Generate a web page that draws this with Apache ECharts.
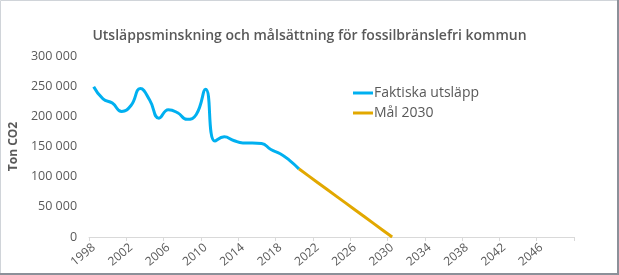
<!DOCTYPE html>
<html>
<head>
<meta charset="utf-8">
<script src="https://cdn.jsdelivr.net/npm/echarts@6/dist/echarts.min.js"></script>
<style>
html,body{margin:0;padding:0;background:#fff;}
#c{width:619px;height:275px;}
</style>
</head>
<body>
<div id="c"></div>
<script>
const years = [];
for (let y = 1998; y <= 2049; y++) years.push(String(y));

const actualYears = ['1998','1999','2000','2001','2002','2003','2004','2005','2006','2007','2008','2009','2010','2011','2012','2013','2014','2015','2016','2017','2018','2019','2020'];
const actualValues = [249000,229000,222000,208000,218000,246000,227000,197000,211000,206000,195000,203000,245000,159000,166000,160000,156000,156000,155000,145000,138000,127000,113000];

const targetYears = ['2020','2021','2022','2023','2024','2025','2026','2027','2028','2029','2030'];
const targetValues = [113000,101700,90400,79100,67800,56500,45200,33900,22600,11300,0];

const yTicks = [0,50000,100000,150000,200000,250000,300000];

function toSeries(cats, vals) {
  const m = {};
  cats.forEach((c, i) => m[c] = vals[i]);
  return years.map(y => (y in m ? m[y] : null));
}

const chart = echarts.init(document.getElementById('c'), null, {renderer: 'canvas'});
const txt = '#595959';
chart.setOption({
  backgroundColor: '#fff',
  animation: false,
  title: {
    text: 'Utsläppsminskning och målsättning för fossilbränslefri kommun',
    left: 'center',
    top: 24,
    textStyle: {fontFamily: 'Open Sans', fontSize: 14, fontWeight: 600, color: txt}
  },
  legend: {
    orient: 'vertical',
    left: 348,
    top: 81,
    itemGap: 6,
    itemWidth: 20,
    itemHeight: 3,
    icon: 'rect',
    textStyle: {fontFamily: 'Open Sans', fontSize: 14, color: txt, padding: [0,0,0,-4]},
    data: ['Faktiska utsläpp', 'Mål 2030']
  },
  grid: {left: 86, right: 45, top: 56, bottom: 38, containLabel: false},
  xAxis: {
    type: 'category',
    data: years,
    boundaryGap: true,
    axisLine: {lineStyle: {color: '#d9d9d9', width: 1}},
    axisTick: {show: true, interval: 3, length: 4, lineStyle: {color: '#d9d9d9'}},
    axisLabel: {interval: 3, rotate: 40, color: txt, fontFamily: 'Open Sans', fontSize: 12, margin: 9},
    splitLine: {show: false}
  },
  yAxis: {
    type: 'value',
    min: yTicks[0],
    max: yTicks[yTicks.length - 1],
    interval: 50000,
    name: 'Ton CO2',
    nameLocation: 'middle',
    nameGap: 56,
    nameRotate: 90,
    nameTextStyle: {fontFamily: 'Open Sans', fontSize: 12, fontWeight: 'bold', color: txt},
    axisLine: {show: false},
    axisTick: {show: false},
    splitLine: {show: false},
    axisLabel: {
      color: txt, fontFamily: 'Open Sans', fontSize: 12.5, margin: 12,
      formatter: v => v === 0 ? '0' : String(v).replace(/\B(?=(\d{3})+(?!\d))/g, ' ')
    }
  },
  series: [
    {
      name: 'Faktiska utsläpp',
      type: 'line',
      data: toSeries(actualYears, actualValues),
      smooth: 0.5,
      showSymbol: false,
      symbol: 'none',
      lineStyle: {color: '#00B0F0', width: 3},
      itemStyle: {color: '#00B0F0'},
      z: 3
    },
    {
      name: 'Mål 2030',
      type: 'line',
      data: toSeries(targetYears, targetValues),
      smooth: false,
      showSymbol: false,
      symbol: 'none',
      lineStyle: {color: '#E2A800', width: 3},
      itemStyle: {color: '#E2A800'},
      z: 2
    }
  ],
  graphic: [
    {type: 'rect', shape: {x: 0.5, y: 0.5, width: 617, height: 273}, style: {fill: 'none', stroke: '#d0d4d9', lineWidth: 1}, silent: true},
    {type: 'line', shape: {x1: 618, y1: 0, x2: 618, y2: 275}, style: {stroke: '#8c9099', lineWidth: 2}, silent: true},
    {type: 'line', shape: {x1: 0, y1: 274, x2: 619, y2: 274}, style: {stroke: '#8c9099', lineWidth: 2}, silent: true}
  ]
});
</script>
</body>
</html>
